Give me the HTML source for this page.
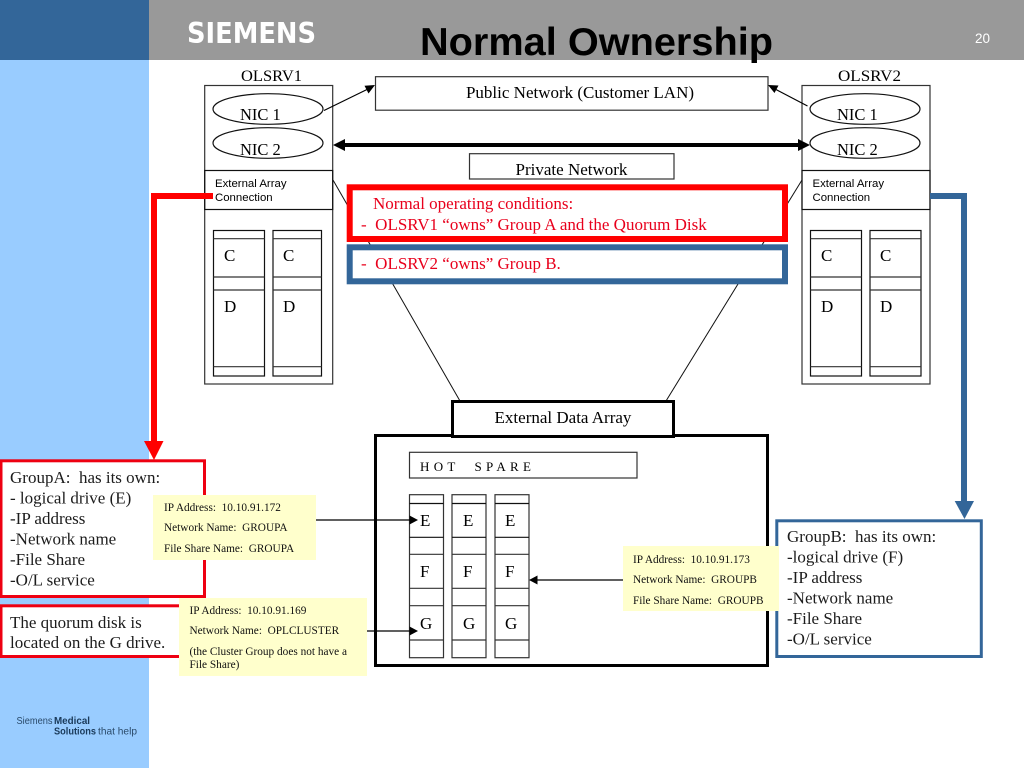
<!DOCTYPE html>
<html><head><meta charset="utf-8"><title>Normal Ownership</title>
<style>
html,body{margin:0;padding:0;background:#fff;width:1024px;height:768px;overflow:hidden}
svg{display:block}
text{font-family:"Liberation Serif",serif;fill:#000;font-size:17px}
.s{font-family:"Liberation Sans",sans-serif}
.y{font-size:11.3px;fill:#111}
.r{fill:#e8001c;font-size:17px}
.l{fill:#1c1c1c;font-size:17px}
.n{font-size:16.5px}
.x{font-family:"Liberation Sans",sans-serif;font-size:11.4px}
.b{fill:none;stroke:#333;stroke-width:1.2}
.k{fill:none;stroke:#111;stroke-width:1.2}
</style></head><body>
<svg width="1024" height="768" viewBox="0 0 1024 768" xmlns="http://www.w3.org/2000/svg">
<rect x="0" y="0" width="1024" height="768" fill="#fff"/>
<rect x="0" y="59" width="149" height="709" fill="#99ccff"/>
<rect x="0" y="0" width="149" height="60" fill="#336699"/>
<rect x="149" y="0" width="875" height="60" fill="#999999"/>
<text x="187" y="43" style="font-family:'DejaVu Sans',sans-serif;font-size:28.5px;font-weight:bold;fill:#fff" textLength="129" lengthAdjust="spacingAndGlyphs">SIEMENS</text>
<text x="420" y="55" class="s" style="font-size:39px;font-weight:bold" textLength="353" lengthAdjust="spacingAndGlyphs">Normal Ownership</text>
<text x="975" y="43" class="s" style="font-size:13.5px;fill:#fff">20</text>

<!-- thin connector lines -->
<line x1="333" y1="180" x2="460" y2="401" stroke="#111" stroke-width="1"/>
<line x1="802" y1="180" x2="666" y2="401" stroke="#111" stroke-width="1"/>

<!-- Server 1 -->
<text x="241" y="81" style="font-size:16px" textLength="61" lengthAdjust="spacingAndGlyphs">OLSRV1</text>
<rect x="204.700" y="85.500" width="128" height="298.500" class="b"/>
<ellipse cx="268" cy="109" rx="55" ry="15.300" class="k"/>
<ellipse cx="268" cy="143" rx="55" ry="15.300" class="k"/>
<text x="240" y="120" class="n">NIC 1</text>
<text x="240" y="155" class="n">NIC 2</text>
<rect x="204.700" y="170.500" width="128" height="39" class="k"/>
<text x="215" y="187" class="x">External Array</text>
<text x="215" y="201" class="x">Connection</text>
<rect x="213.500" y="230.500" width="51" height="145.500" class="k"/>
<rect x="273" y="230.500" width="48.500" height="145.500" class="k"/>
<path class="b" d="M213.500 238.700H264.500M213.500 277H264.500M213.500 290H264.500M213.500 366.700H264.500M273 238.700H321.500M273 277H321.500M273 290H321.500M273 366.700H321.500"/>
<text x="224" y="261">C</text><text x="283" y="261">C</text>
<text x="224" y="312">D</text><text x="283" y="312">D</text>

<!-- Server 2 -->
<text x="838" y="81" style="font-size:16px" textLength="63" lengthAdjust="spacingAndGlyphs">OLSRV2</text>
<rect x="802" y="85.500" width="128" height="298.500" class="b"/>
<ellipse cx="865" cy="109" rx="55" ry="15.300" class="k"/>
<ellipse cx="865" cy="143" rx="55" ry="15.300" class="k"/>
<text x="837" y="120" class="n">NIC 1</text>
<text x="837" y="155" class="n">NIC 2</text>
<rect x="802" y="170.500" width="128" height="39" class="k"/>
<text x="812.500" y="187" class="x">External Array</text>
<text x="812.500" y="201" class="x">Connection</text>
<rect x="810.500" y="230.500" width="51" height="145.500" class="k"/>
<rect x="870" y="230.500" width="51" height="145.500" class="k"/>
<path class="b" d="M810.500 238.700H861.500M810.500 277H861.500M810.500 290H861.500M810.500 366.700H861.500M870 238.700H921M870 277H921M870 290H921M870 366.700H921"/>
<text x="821" y="261">C</text><text x="880" y="261">C</text>
<text x="821" y="312">D</text><text x="880" y="312">D</text>

<!-- Networks -->
<rect x="375.500" y="76.700" width="392.500" height="33.500" fill="#fff" class="b"/>
<text x="580" y="98" text-anchor="middle">Public Network (Customer LAN)</text>
<rect x="469.500" y="153.700" width="204.500" height="25.300" fill="#fff" class="b"/>
<text x="571.500" y="175" text-anchor="middle">Private Network</text>

<line x1="324" y1="110.500" x2="368" y2="89" stroke="#000" stroke-width="1.200"/>
<polygon points="375,85 364.500,85.800 368.500,93.500" fill="#000"/>
<line x1="807.500" y1="106" x2="775" y2="89" stroke="#000" stroke-width="1.200"/>
<polygon points="768,85 778.500,85.500 774.500,93" fill="#000"/>
<line x1="340" y1="145" x2="802" y2="145" stroke="#000" stroke-width="4"/>
<polygon points="333,145 345,139 345,151" fill="#000"/>
<polygon points="810,145 798,139 798,151" fill="#000"/>

<!-- Status boxes -->
<rect x="349.700" y="187.300" width="435.300" height="51.700" fill="#fff" stroke="#ff0000" stroke-width="6"/>
<rect x="349.700" y="247.300" width="435.300" height="34" fill="#fff" stroke="#336699" stroke-width="6"/>
<text x="373" y="209" class="r">Normal operating conditions:</text>
<text x="361" y="230" class="r" xml:space="preserve">-  OLSRV1 “owns” Group A and the Quorum Disk</text>
<text x="361" y="269" class="r" xml:space="preserve">-  OLSRV2 “owns” Group B.</text>

<!-- Main array -->
<rect x="375.500" y="435.500" width="392" height="230" fill="#fff" stroke="#000" stroke-width="3"/>
<rect x="452.500" y="401.500" width="221" height="35" fill="#fff" stroke="#000" stroke-width="3"/>
<text x="563" y="423" text-anchor="middle">External Data Array</text>
<rect x="409.500" y="452.300" width="227.500" height="25.700" fill="#fff" class="b"/>
<text x="420" y="471" style="font-size:13px;letter-spacing:4.300px" xml:space="preserve">HOT  SPARE</text>

<rect x="409.500" y="494.700" width="34" height="163" class="b"/>
<rect x="452" y="494.700" width="34" height="163" class="b"/>
<rect x="495" y="494.700" width="34" height="163" class="b"/>
<path class="k" d="M409.500 503.500H443.500M452 503.500H486M495 503.500H529M409.500 537.300H443.500M452 537.300H486M495 537.300H529"/>
<path class="b" d="M409.500 554.300H443.500M452 554.300H486M495 554.300H529M409.500 588.300H443.500M452 588.300H486M495 588.300H529M409.500 605.700H443.500M452 605.700H486M495 605.700H529M409.500 640H443.500M452 640H486M495 640H529"/>
<text x="420" y="526">E</text><text x="463" y="526">E</text><text x="505" y="526">E</text>
<text x="420" y="577">F</text><text x="463" y="577">F</text><text x="505" y="577">F</text>
<text x="420" y="629">G</text><text x="463" y="629">G</text><text x="505" y="629">G</text>

<!-- Group A -->
<rect x="1" y="460.800" width="203.500" height="135.700" fill="#fff" stroke="#ee0011" stroke-width="3"/>
<rect x="1" y="605.800" width="190" height="50.700" fill="#fff" stroke="#ee0011" stroke-width="3"/>
<text x="10" y="483" class="l" xml:space="preserve">GroupA:  has its own:</text>
<text x="10" y="503.500" class="l">- logical drive (E)</text>
<text x="10" y="524" class="l">-IP address</text>
<text x="10" y="544.500" class="l">-Network name</text>
<text x="10" y="565" class="l">-File Share</text>
<text x="10" y="585.500" class="l">-O/L service</text>
<text x="10" y="628" class="l">The quorum disk is</text>
<text x="10" y="648" class="l">located on the G drive.</text>

<!-- Group B -->
<rect x="776.800" y="520.800" width="204.500" height="135.700" fill="#fff" stroke="#336699" stroke-width="3"/>
<text x="787" y="542" class="l" xml:space="preserve">GroupB:  has its own:</text>
<text x="787" y="562.500" class="l">-logical drive (F)</text>
<text x="787" y="583" class="l">-IP address</text>
<text x="787" y="603.500" class="l">-Network name</text>
<text x="787" y="624" class="l">-File Share</text>
<text x="787" y="644.500" class="l">-O/L service</text>

<!-- Thick connectors -->
<path d="M213 196H154V442" fill="none" stroke="#ff0000" stroke-width="6"/>
<polygon points="144,441 163.500,441 154,460" fill="#ff0000"/>
<path d="M930 196H964V502" fill="none" stroke="#336699" stroke-width="6"/>
<polygon points="954.700,501 974,501 964.500,519" fill="#336699"/>

<!-- Yellow notes -->
<rect x="153" y="495" width="163" height="65" fill="#ffffcc"/>
<text x="164" y="511" class="y" xml:space="preserve">IP Address:  10.10.91.172</text>
<text x="164" y="531" class="y" xml:space="preserve">Network Name:  GROUPA</text>
<text x="164" y="552" class="y" xml:space="preserve">File Share Name:  GROUPA</text>
<rect x="179" y="598" width="188" height="78" fill="#ffffcc"/>
<text x="189.500" y="614" class="y" xml:space="preserve">IP Address:  10.10.91.169</text>
<text x="189.500" y="634" class="y" xml:space="preserve">Network Name:  OPLCLUSTER</text>
<text x="189.500" y="655" class="y">(the Cluster Group does not have a</text>
<text x="189.500" y="668" class="y">File Share)</text>
<rect x="623" y="546" width="156" height="65" fill="#ffffcc"/>
<text x="633" y="563" class="y" xml:space="preserve">IP Address:  10.10.91.173</text>
<text x="633" y="583" class="y" xml:space="preserve">Network Name:  GROUPB</text>
<text x="633" y="604" class="y" xml:space="preserve">File Share Name:  GROUPB</text>

<!-- Small arrows -->
<line x1="316" y1="520" x2="411" y2="520" stroke="#000" stroke-width="1.200"/>
<polygon points="418,520 409.500,515.500 409.500,524.500" fill="#000"/>
<line x1="367" y1="631" x2="411" y2="631" stroke="#000" stroke-width="1.200"/>
<polygon points="418,631 409.500,626.500 409.500,635.500" fill="#000"/>
<line x1="623" y1="580" x2="536" y2="580" stroke="#000" stroke-width="1.200"/>
<polygon points="529,580 537.500,575.500 537.500,584.500" fill="#000"/>

<!-- Footer logo -->
<text x="16.500" y="724" class="s" style="font-size:10.500px;fill:#2a4a6a" textLength="36" lengthAdjust="spacingAndGlyphs">Siemens</text>
<text x="54" y="724" class="s" style="font-size:10.500px;font-weight:bold;fill:#1a3a5a" textLength="36" lengthAdjust="spacingAndGlyphs">Medical</text>
<text x="54" y="734.500" class="s" style="font-size:10.500px;font-weight:bold;fill:#1a3a5a" textLength="42" lengthAdjust="spacingAndGlyphs">Solutions</text>
<text x="98" y="734.500" class="s" style="font-size:10.500px;fill:#2a4a6a" textLength="39" lengthAdjust="spacingAndGlyphs">that help</text>
</svg>
</body></html>
